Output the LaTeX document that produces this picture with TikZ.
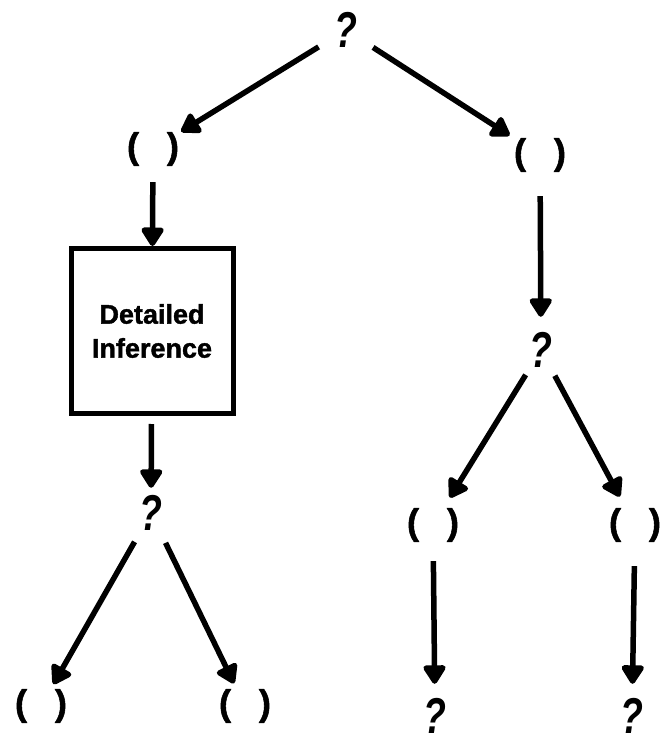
\documentclass[tikz,border=0pt]{standalone}
\usepackage{fontspec}
\setmainfont{Liberation Sans}[BoldFeatures={FakeBold=1.5}]
\usetikzlibrary{arrows.meta}
\newcommand\qmark{\scalebox{0.78}[1.05]{\fontsize{48}{48}\selectfont\bfseries\itshape ?}}
\newcommand\parens{\fontsize{36}{36}\selectfont\bfseries (\hspace{28pt})}
\tikzset{
  x=1pt, y=-1pt,
  q/.style={circle, draw=none, inner sep=0pt, minimum size=50pt},
  p/.style={circle, draw=none, inner sep=0pt, minimum size=50pt},
  arr/.style={line width=5.5pt, -{Triangle[length=21pt,width=25pt,round]}},
  bigbox/.style={draw, line width=5pt, minimum width=162pt, minimum height=165pt, align=center,
    font=\fontsize{27}{34}\selectfont\bfseries}
}
\begin{document}
\begin{tikzpicture}
\useasboundingbox (0,0) rectangle (662,743);
\node[q] (top) at (346,30) {\qmark};
\node[p] (L1) at (153,149) {\parens};
\node[p] (R1) at (540,155) {\parens};
\node[bigbox] (box) at (152,331) {Detailed\\Inference};
\node[q] (lq) at (151,513) {\qmark};
\node[p] (LL) at (41,706) {\parens};
\node[p] (LR) at (245,706) {\parens};
\node[q] (rq) at (541,350) {\qmark};
\node[p] (RL) at (433,525) {\parens};
\node[p] (RR) at (635,525) {\parens};
\node[q] (bl) at (435,716) {\qmark};
\node[q] (br) at (632,716) {\qmark};

\draw[arr, shorten <=7pt, shorten >=2pt] (top) -- (L1);
\draw[arr, shorten <=7pt, shorten >=5pt] (top) -- (R1);
\draw[arr, shorten <=2pt] (L1) -- (box);
\draw[arr, shorten <=8pt, shorten >=0pt] (box) -- (lq);
\draw[arr, shorten <=8pt, shorten >=-6pt] (lq) -- (LL);
\draw[arr, shorten <=8pt, shorten >=-6pt] (lq) -- (LR);
\draw[arr, shorten <=10pt, shorten >=8pt] (R1) -- (rq);
\draw[arr, shorten <=4pt, shorten >=1pt] (rq) -- (RL);
\draw[arr, shorten <=4pt, shorten >=1pt] (rq) -- (RR);
\draw[arr, shorten <=5pt, shorten >=7pt] (RL) -- (bl);
\draw[arr, shorten <=10pt, shorten >=7pt] (RR) -- (br);
\end{tikzpicture}
\end{document}
